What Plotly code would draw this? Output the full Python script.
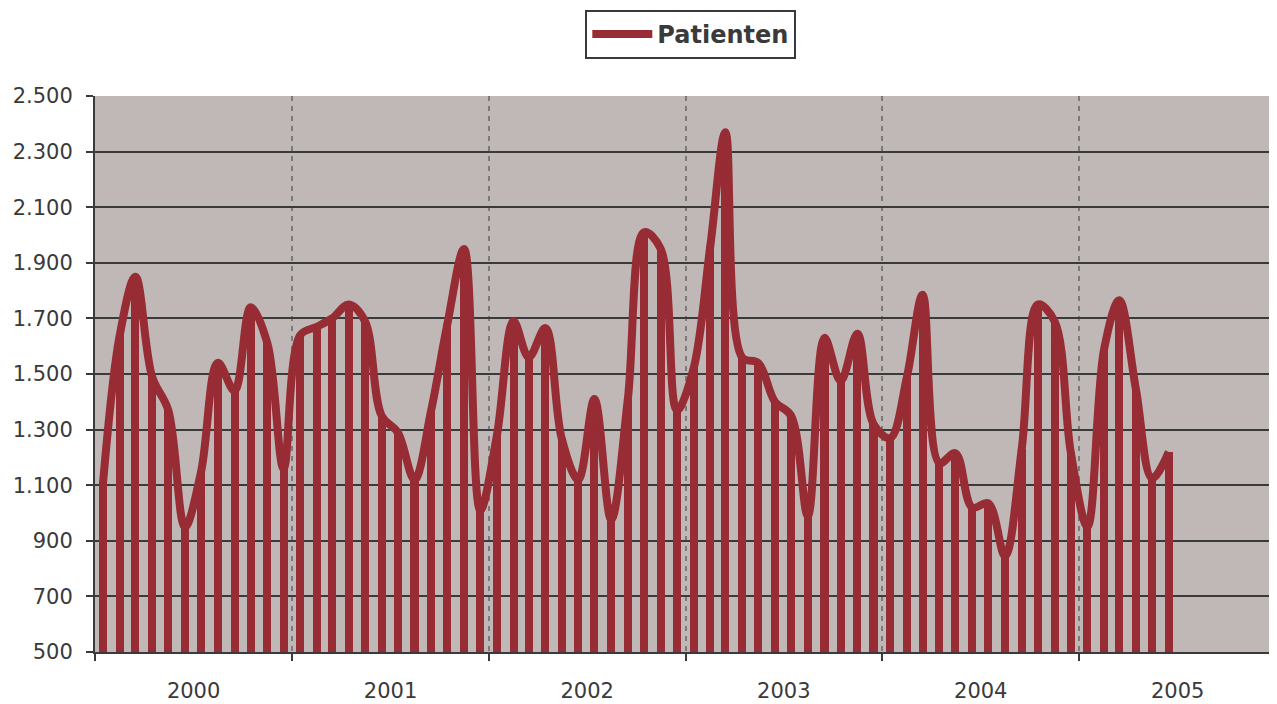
import pandas as pd
import plotly.graph_objects as go

# monthly patient counts, Jan 2000 - Jun 2005
months = pd.date_range("2000-01-01", periods=66, freq="MS") + pd.Timedelta(days=15)
patienten = [
    1110, 1640, 1850, 1490, 1370, 950, 1150, 1540, 1440, 1740, 1610, 1160,   # 2000
    1640, 1670, 1700, 1750, 1690, 1350, 1290, 1120, 1370, 1680, 1950, 1010,  # 2001
    1280, 1690, 1560, 1665, 1270, 1120, 1410, 975, 1410, 2010, 1950, 1370,   # 2002
    1520, 1960, 2370, 1560, 1540, 1400, 1350, 990, 1630, 1475, 1645, 1320,   # 2003
    1270, 1490, 1785, 1180, 1215, 1020, 1035, 845, 1230, 1750, 1690, 1220,   # 2004
    950, 1590, 1765, 1445, 1125, 1220,                                       # 2005
]

red = "#972c35"
dark = "#3a3a3a"
font = "DejaVu Sans"

fig = go.Figure()

# drop lines (Excel style) as thin bars
fig.add_trace(go.Bar(x=months, y=patienten, width=15 * 86400000,
                     marker=dict(color=red, line_width=0), showlegend=False,
                     hoverinfo="skip"))

fig.add_trace(go.Scatter(x=months, y=patienten, mode="lines", name="Patienten",
                         line=dict(color=red, width=8, shape="spline", smoothing=1)))

# page body has an 8px margin, so the figure is 8px smaller than the window
fig.update_layout(
    width=1269, height=696,
    margin=dict(l=87, r=1, t=88, b=52, autoexpand=False),
    paper_bgcolor="white",
    plot_bgcolor="#c0b8b6",
    separators=",.",
    font=dict(family=font, size=21, color=dark),
    legend=dict(x=0.5045, y=1.1547, xanchor="center", yanchor="top",
                bgcolor="white", bordercolor=dark, borderwidth=2,
                itemwidth=60,
                font=dict(family=font, size=24, color=dark, weight="bold")),
    bargap=0,
)

fig.update_xaxes(
    type="date", range=["2000-01-01", "2006-01-01"], automargin=False,
    tick0="2000-01-01", dtick="M12", tickformat="%Y", ticklabelmode="period",
    ticks="outside", ticklen=7, tickwidth=2, tickcolor=dark,
    showline=True, linecolor=dark, linewidth=2,
    showgrid=True, gridcolor="#7f7878", gridwidth=2, griddash="5px,5px",
    ticklabelstandoff=12,
)

fig.update_yaxes(
    range=[500, 2500], tick0=500, dtick=200, tickformat=",d", automargin=False,
    ticks="outside", ticklen=7, tickwidth=2, tickcolor=dark,
    showline=True, linecolor=dark, linewidth=2,
    showgrid=True, gridcolor=dark, gridwidth=2,
    ticklabelstandoff=9,
)

fig.write_html("out.html")
